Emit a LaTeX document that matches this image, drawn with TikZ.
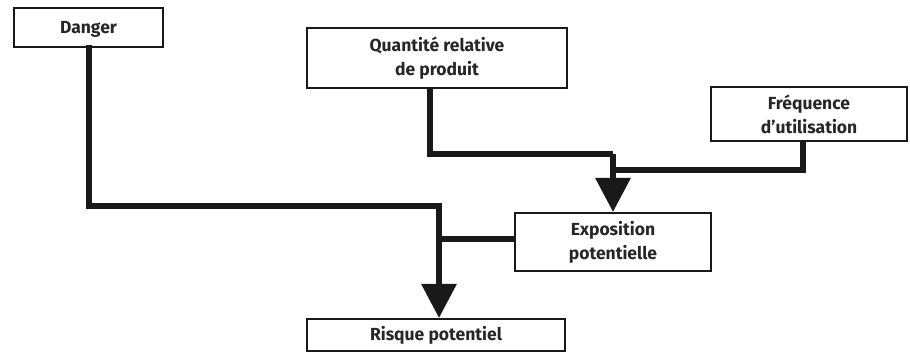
\documentclass[tikz,border=0pt]{standalone}
\usepackage{fontspec}
\setmainfont{Fira Sans}
\usetikzlibrary{arrows.meta}
\tikzset{
  box/.style={draw=black!90, line width=2pt, fill=white, inner sep=0pt, align=center,
    font=\bfseries\fontsize{17.5}{24}\selectfont, text=black!85},
  link/.style={line width=6pt, draw=black!90},
  tip/.style={-{Triangle[width=34pt,length=34pt]}}
}
\begin{document}
\begin{tikzpicture}[x=1pt,y=-1pt]
\useasboundingbox (0,0) rectangle (910,352);

% boxes
\node[box, minimum width=149, minimum height=39, text depth=0pt] (danger) at (88.5,27.5) {Danger};
\node[box, minimum width=260, minimum height=60] (qte) at (437,58) {Quantité relative\\de produit};
\node[box, minimum width=196, minimum height=54] (freq) at (809,114) {Fréquence\\d’utilisation};
\node[box, minimum width=196, minimum height=58] (expo) at (613,242) {Exposition\\potentielle};
\node[box, minimum width=258, minimum height=32] (risque) at (436,335) {Risque potentiel};

% links
\coordinate (d1) at (88.5,206);
\coordinate (d2) at (439,206);
\coordinate (q1) at (430,154);
\coordinate (q2) at (613,154);
\coordinate (f1) at (803,170);
\coordinate (f2) at (613,170);
\coordinate (e1) at (439,239);

\draw[link, line cap=rect] (danger.south -| d1) -- (d1) -- (d2);
\draw[link, tip] (d2) -- (risque.north -| d2);
\draw[link] (expo.west |- e1) -- (e1);
\draw[link] (qte.south -| q1) -- (q1) -- (q2);
\draw[link, tip] (q2) -- (expo.north -| q2);
\draw[link] (freq.south -| f1) -- (f1) -- (f2);
\end{tikzpicture}
\end{document}
